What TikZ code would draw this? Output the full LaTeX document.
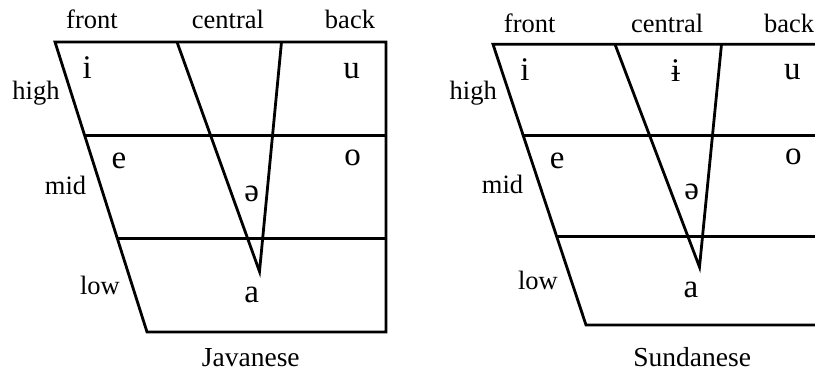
\documentclass[tikz,border=0pt]{standalone}
\usepackage{fontspec}
\setmainfont{Liberation Serif}
\begin{document}
\begin{tikzpicture}[x=1pt,y=-1pt,
  edge/.style={line width=2.8pt, line join=miter},
  lab/.style={anchor=base, inner sep=0pt, font=\fontsize{26.5}{30}\selectfont},
  vow/.style={anchor=base, inner sep=0pt, font=\fontsize{33}{36}\selectfont},
  chartname/.style={anchor=base, inner sep=0pt, font=\fontsize{27.5}{30}\selectfont}]
\useasboundingbox (0,0) rectangle (815,374);
\clip (0,0) rectangle (815,374);
% ---------- Javanese ----------
\coordinate (Jtl) at (55,42);
\coordinate (Jtr) at (386,42);
\coordinate (Jbl) at (147,332);
\coordinate (Jbr) at (386,332);
\coordinate (Jml) at (84.7,135.7);
\coordinate (Jmr) at (386,135.7);
\coordinate (Jll) at (117.4,238.7);
\coordinate (Jlr) at (386,238.7);
\coordinate (Jva) at (177,42);
\coordinate (Jvb) at (281.5,42);
\coordinate (Jvt) at (259.5,271.5);
\draw[edge] (Jtl) -- (Jtr) -- (Jbr) -- (Jbl) -- cycle;
\draw[edge] (Jml) -- (Jmr);
\draw[edge] (Jll) -- (Jlr);
\draw[edge] (Jva) -- (Jvt) -- (Jvb);
\node[lab] (Jfront) at (92,28.3) {front};
\node[lab] (Jcentral) at (228,28.3) {central};
\node[lab] (Jback) at (350,28.3) {back};
\node[lab] (Jhigh) at (36,99.3) {high};
\node[lab] (Jmid) at (65.5,195) {mid};
\node[lab] (Jlow) at (100,295) {low};
\node[vow] (Ji) at (87.3,79) {i};
\node[vow] (Ju) at (351.7,78.3) {u};
\node[vow] (Je) at (119,169) {e};
\node[vow] (Jo) at (352.7,165.7) {o};
\node[vow] (Jschwa) at (251.7,201.7) {ə};
\node[vow] (Ja) at (251.7,302.7) {a};
\node[chartname] (Jname) at (250.8,367) {Javanese};
% ---------- Sundanese ----------
\coordinate (Stl) at (493,44.3);
\coordinate (Str) at (840,44.3);
\coordinate (Sbl) at (586,325);
\coordinate (Sbr) at (840,325);
\coordinate (Sml) at (523.3,135.7);
\coordinate (Smr) at (840,135.7);
\coordinate (Sll) at (556.6,236.4);
\coordinate (Slr) at (840,236.4);
\coordinate (Sva) at (615,44.3);
\coordinate (Svb) at (721.5,44.3);
\coordinate (Svt) at (699.5,267);
\draw[edge] (Str) -- (Stl) -- (Sbl) -- (Sbr);
\draw[edge] (Sml) -- (Smr);
\draw[edge] (Sll) -- (Slr);
\draw[edge] (Sva) -- (Svt) -- (Svb);
\node[lab] (Sfront) at (529.7,32.3) {front};
\node[lab] (Scentral) at (667.2,32.3) {central};
\node[lab, anchor=base west] (Sback) at (764,32.3) {back};
\node[lab] (Shigh) at (473.3,99.3) {high};
\node[lab] (Smid) at (502.5,193.3) {mid};
\node[lab] (Slow) at (538,290) {low};
\node[vow] (Si) at (525,81) {i};
\node[vow] (Sbari) at (675.7,81.7) {ɨ};
\node[vow] (Su) at (792.3,80) {u};
\node[vow] (Se) at (557.3,168.3) {e};
\node[vow] (So) at (793.3,165) {o};
\node[vow] (Sschwa) at (691.7,200) {ə};
\node[vow] (Sa) at (691,297.7) {a};
\node[chartname] (Sname) at (692.2,366.7) {Sundanese};
\end{tikzpicture}
\end{document}
